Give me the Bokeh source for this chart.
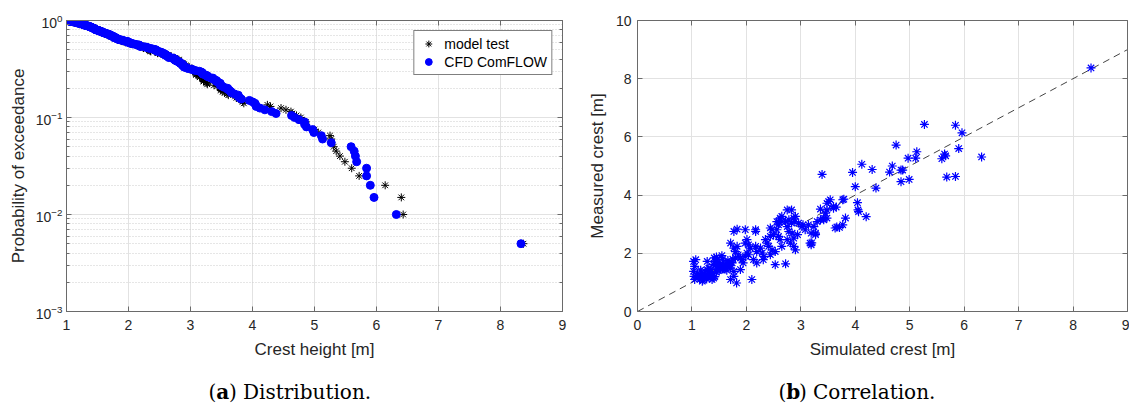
import numpy as np
from bokeh.plotting import figure
from bokeh.models import (Range1d, LinearAxis, LogAxis, Label, Legend, LegendItem,
                          FixedTicker, CustomJSTickFormatter, LogTicker)
from bokeh.layouts import row, column
from bokeh.embed import file_html
from bokeh.resources import INLINE

# ---- data: simulated (CFD ComFLOW) vs measured (model test) crest [m]
simulated = [
    8.33, 5.27, 5.84, 5.96, 4.75, 5.90, 5.13, 4.97, 5.11, 5.64, 5.66, 5.59, 6.32, 4.12, 3.95,
    4.31, 4.68, 4.63, 4.84, 4.87, 4.84, 4.99, 5.68, 5.84, 4.00, 4.38, 3.39, 3.79, 3.77, 3.51,
    3.48, 3.54, 3.60, 3.65, 4.04, 4.05, 4.06, 4.20, 3.82, 3.77, 3.66, 3.63, 3.71, 3.36, 3.42,
    3.30, 3.24, 3.19, 3.27, 3.17, 3.19, 3.20, 3.04, 3.14, 3.08, 3.02, 2.94, 2.96, 3.36, 3.42,
    3.48, 3.45, 3.48, 3.60, 3.27, 2.75, 2.83, 2.90, 2.62, 2.59, 2.65, 2.78, 2.87, 2.89, 2.56,
    2.59, 2.65, 2.72, 2.75, 2.83, 2.78, 2.84, 2.56, 2.59, 2.62, 2.65, 2.75, 2.81, 2.87, 2.87,
    2.90, 2.44, 2.47, 2.44, 2.50, 2.47, 2.53, 2.44, 2.53, 2.72, 2.35, 2.38, 2.41, 2.26, 2.29,
    2.32, 2.31, 2.17, 2.17, 2.17, 2.19, 2.13, 2.19, 2.10, 1.98, 2.01, 2.04, 2.07, 2.01, 2.04,
    1.98, 1.98, 1.89, 1.92, 1.94, 1.89, 1.77, 1.83, 1.80, 1.77, 1.83, 1.77, 1.82, 1.77, 1.71,
    1.65, 1.68, 1.71, 1.74, 1.46, 1.51, 1.52, 1.58, 1.61, 1.55, 1.41, 1.45, 1.43, 1.46, 1.34,
    1.37, 1.40, 1.37, 1.28, 1.31, 1.28, 1.19, 1.22, 1.28, 1.03, 1.05, 1.03, 1.04, 1.05, 1.07,
    1.10, 1.12, 1.15, 1.14, 1.18, 1.20, 1.23, 1.25, 1.27, 1.30, 1.33, 1.35, 1.38, 1.39, 1.42,
    1.44, 1.45, 1.47, 1.48, 1.50, 1.53, 1.56, 1.56, 1.58, 1.60, 1.62, 1.64, 1.66, 1.69, 1.72,
    1.75, 1.71, 1.80, 1.85, 1.16,
]
measured = [
    8.37, 6.43, 6.40, 6.14, 5.72, 5.60, 5.49, 5.27, 5.27, 5.41, 5.35, 5.25, 5.31, 5.06, 4.78,
    4.88, 5.00, 4.79, 4.86, 4.86, 4.46, 4.54, 4.62, 4.64, 4.29, 4.24, 4.71, 3.86, 3.84, 3.78,
    3.72, 3.84, 3.55, 3.59, 3.74, 3.49, 3.43, 3.26, 3.21, 2.98, 2.90, 2.87, 2.89, 3.52, 3.15,
    3.09, 2.92, 2.69, 2.64, 2.35, 2.29, 2.36, 2.98, 2.98, 2.81, 2.92, 2.64, 3.04, 3.15, 3.21,
    3.21, 3.38, 3.49, 3.61, 2.69, 3.49, 3.49, 3.27, 3.21, 3.09, 3.09, 3.15, 3.21, 3.09, 3.09,
    2.98, 3.27, 3.09, 2.92, 3.04, 2.75, 2.69, 2.81, 2.58, 2.47, 2.24, 2.47, 2.35, 2.52, 2.24,
    2.12, 2.87, 2.81, 2.58, 2.64, 2.12, 2.06, 1.95, 1.61, 1.64, 2.47, 2.35, 2.24, 2.18, 2.01,
    1.89, 1.78, 2.81, 2.75, 2.24, 2.06, 1.78, 1.67, 1.10, 2.35, 2.47, 2.29, 2.18, 2.01, 1.95,
    1.89, 2.81, 1.84, 1.78, 1.67, 1.44, 2.18, 2.24, 2.06, 2.75, 2.83, 1.21, 0.98, 1.38, 2.35,
    1.55, 1.61, 1.49, 1.67, 1.55, 1.61, 1.44, 1.49, 1.46, 1.92, 1.84, 1.87, 1.72, 1.78, 1.27,
    1.21, 1.15, 1.10, 1.72, 1.49, 1.44, 1.04, 1.15, 1.21, 1.72, 1.55, 1.38, 1.21, 1.10, 1.78,
    1.30, 1.18, 1.25, 1.12, 1.35, 1.08, 1.30, 1.27, 1.12, 1.38, 1.15, 1.45, 1.30, 1.62, 1.20,
    1.60, 1.35, 1.50, 1.70, 1.40, 1.55, 1.80, 1.48, 1.60, 1.52, 1.65, 1.42, 1.75, 1.58, 1.68,
    1.80, 1.10, 1.84, 1.95, 1.42,
]
x_ticks_a = [1, 2, 3, 4, 5, 6, 7, 8, 9]
x_ticks_b = [0, 1, 2, 3, 4, 5, 6, 7, 8, 9]
y_ticks_b = [0, 2, 4, 6, 8, 10]
diag = [0, 9]

# empirical exceedance distribution (rank / N)
n = len(simulated)
cfd_sorted = sorted(simulated, reverse=True)
mt_sorted = sorted(measured, reverse=True)
prob = [(i + 1) / n for i in range(n)]

FONT = "Liberation Sans"
TXT = "#262626"
AX = "#6a6a6a"
GRID = "#e2e2e2"
BLUE = "#0000ff"


def style_axis(ax, show_labels=True):
    ax.axis_line_color = AX
    ax.major_tick_line_color = AX
    ax.minor_tick_line_color = AX
    ax.major_tick_in = 5
    ax.major_tick_out = 0
    ax.minor_tick_in = 3
    ax.minor_tick_out = 0
    ax.major_label_text_font = FONT
    ax.major_label_text_font_size = "14px"
    ax.major_label_text_color = TXT
    ax.axis_label_text_font = FONT
    ax.axis_label_text_font_size = "17px"
    ax.axis_label_text_font_style = "normal"
    ax.axis_label_text_color = TXT
    if not show_labels:
        ax.formatter = CustomJSTickFormatter(code="return ''")
        ax.major_label_standoff = 0


def caption_fig(width, x0, letter, rest):
    c = figure(width=width, height=46, x_range=Range1d(0, 1), y_range=Range1d(0, 1),
               output_backend="svg", toolbar_location=None,
               x_axis_location=None, y_axis_location=None,
               min_border_left=0, min_border_right=0, min_border_top=0, min_border_bottom=0)
    c.outline_line_color = None
    c.xgrid.visible = False
    c.ygrid.visible = False
    f = "DejaVu Serif"
    fs = "20px"
    parts = [("(", "normal", 0), (letter, "bold", 7.8), (") " + rest, "normal", 7.8 + 12.6)]
    for t, st, dx in parts:
        c.add_layout(Label(x=x0 + dx, y=17, x_units="screen", y_units="screen", text=t,
                           text_font=f, text_font_size=fs, text_font_style=st,
                           text_color="black", text_baseline="middle", text_align="left"))
    return c


# ---------------- (a) Distribution ----------------
pa = figure(width=570, height=362, x_range=Range1d(1, 9), y_range=Range1d(1e-3, 1),
            y_axis_type="log", output_backend="svg", toolbar_location=None,
            min_border_left=66, min_border_right=8, min_border_top=18, min_border_bottom=51,
            x_axis_label="Crest height [m]", y_axis_label="Probability of exceedance")
pa.outline_line_color = None
pa.xaxis.ticker = FixedTicker(ticks=x_ticks_a, minor_ticks=[])
for ax in pa.xaxis + pa.yaxis:
    style_axis(ax)
pa.xaxis.major_label_standoff = 8
pa.xaxis.axis_label_standoff = 7
pa.yaxis.major_label_standoff = 4
pa.yaxis.axis_label_standoff = 5
top_a = LinearAxis(ticker=FixedTicker(ticks=x_ticks_a, minor_ticks=[]))
style_axis(top_a, False)
pa.add_layout(top_a, "above")
right_a = LogAxis(ticker=LogTicker())
style_axis(right_a, False)
pa.add_layout(right_a, "right")
pa.xgrid.grid_line_color = GRID
pa.ygrid.grid_line_color = GRID
pa.ygrid.minor_grid_line_color = "#cccccc"
pa.ygrid.minor_grid_line_dash = "1 2"

r_mt = pa.scatter(mt_sorted, prob, marker="asterisk", size=8, line_color="black", line_width=1)
r_cfd = pa.scatter(cfd_sorted, prob, marker="circle", size=8, fill_color=BLUE, line_color=BLUE)
leg = Legend(items=[LegendItem(label="model test", renderers=[r_mt]),
                    LegendItem(label="CFD ComFLOW", renderers=[r_cfd])],
             location="top_right")
leg.label_text_font = FONT
leg.label_text_font_size = "14px"
leg.label_text_color = "black"
leg.border_line_color = "black"
leg.border_line_width = 1
leg.padding = 4
leg.spacing = 1
leg.margin = 10
leg.glyph_width = 20
leg.glyph_height = 17
leg.label_height = 17
leg.label_standoff = 6
leg.background_fill_alpha = 1
pa.add_layout(leg)

# ---------------- (b) Correlation ----------------
pb = figure(width=559, height=362, x_range=Range1d(0, 9), y_range=Range1d(0, 10),
            output_backend="svg", toolbar_location=None,
            min_border_left=67, min_border_right=2, min_border_top=20, min_border_bottom=50,
            x_axis_label="Simulated crest [m]", y_axis_label="Measured crest [m]")
pb.outline_line_color = None
pb.xaxis.ticker = FixedTicker(ticks=x_ticks_b, minor_ticks=[])
pb.yaxis.ticker = FixedTicker(ticks=y_ticks_b, minor_ticks=[])
for ax in pb.xaxis + pb.yaxis:
    style_axis(ax)
pb.xaxis.major_label_standoff = 8
pb.xaxis.axis_label_standoff = 7
pb.yaxis.major_label_standoff = 6
pb.yaxis.axis_label_standoff = 6
top_b = LinearAxis(ticker=FixedTicker(ticks=x_ticks_b, minor_ticks=[]))
style_axis(top_b, False)
pb.add_layout(top_b, "above")
right_b = LinearAxis(ticker=FixedTicker(ticks=y_ticks_b, minor_ticks=[]))
style_axis(right_b, False)
pb.add_layout(right_b, "right")
pb.xgrid.grid_line_color = GRID
pb.ygrid.grid_line_color = GRID

pb.line(diag, diag, line_color="#444444", line_width=1, line_dash="7 5")
pb.scatter(simulated, measured, marker="asterisk", size=9, line_color=BLUE, line_width=1.2)

ca = caption_fig(570, 208, "a", "Distribution.")
cb = caption_fig(559, 208, "b", "Correlation.")

layout = column(row(pa, pb), row(ca, cb), spacing=0)
open("out.html", "w").write(file_html(layout, INLINE))
